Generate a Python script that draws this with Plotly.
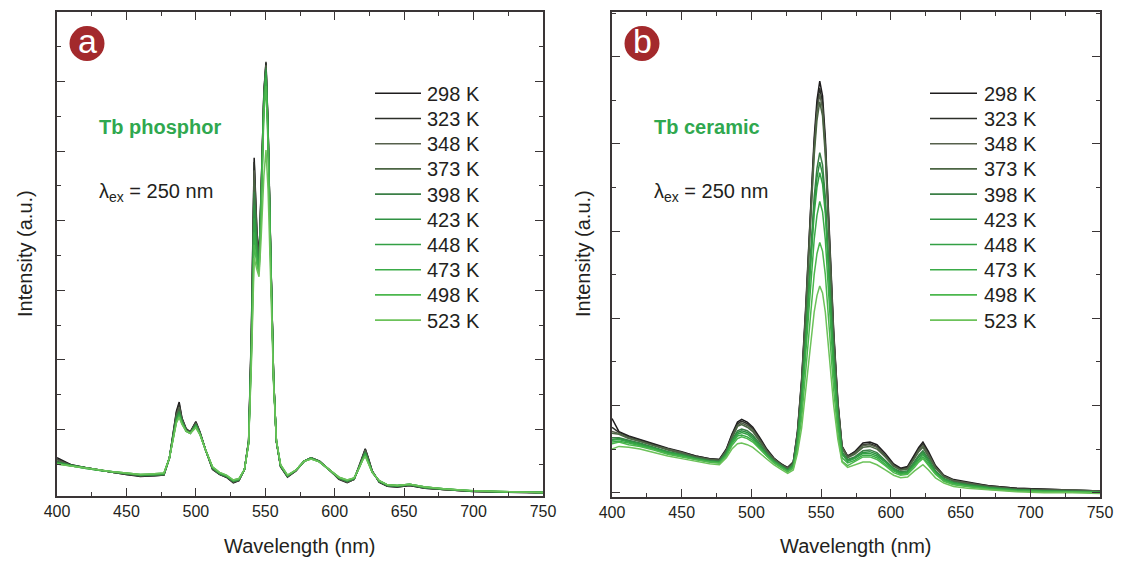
import plotly.graph_objects as go

W, H = 1123, 562
FONT = "Liberation Sans, Arial, sans-serif"
TXT = "#231f20"
AX = "#3a3536"
GREEN_TXT = "#2fa84f"
BADGE = "#a3292c"

TEMPS = ["298 K", "323 K", "348 K", "373 K", "398 K", "423 K", "448 K", "473 K", "498 K", "523 K"]
COLORS = ["#1e1c1d", "#2c2f29", "#56614c", "#4b6543", "#3b7f46", "#2f9142",
          "#33a044", "#3aab47", "#4bb74d", "#6cc25a"]

# ---------- Panel a : Tb phosphor ----------
WL_A = [400, 410, 420, 430, 440, 450, 460, 470, 477, 481, 484, 486, 488, 490, 493, 496, 500, 503, 507, 512,
        517, 522, 527, 531, 535, 538, 540, 542, 544, 545.5, 547, 549, 550.5, 552, 554, 556, 558, 561, 566, 572,
        578, 583, 589, 596, 603, 609, 614, 618, 620, 622, 624, 627, 632, 638, 645, 654, 665, 680, 700, 725, 750]

A_298 = [0.55, 0.45, 0.41, 0.37, 0.34, 0.31, 0.28, 0.29, 0.30, 0.55, 0.95, 1.22, 1.35, 1.12, 0.97, 0.92, 1.07, 0.92, 0.66, 0.38,
         0.31, 0.27, 0.19, 0.22, 0.38, 0.80, 2.40, 4.86, 3.80, 3.43, 4.40, 5.80, 6.22, 5.30, 3.40, 1.70, 0.78, 0.42, 0.27, 0.36,
         0.50, 0.55, 0.50, 0.38, 0.24, 0.19, 0.24, 0.45, 0.58, 0.68, 0.56, 0.36, 0.20, 0.14, 0.13, 0.15, 0.11, 0.09, 0.065, 0.055, 0.048]
A_323 = [0.53, 0.45, 0.41, 0.37, 0.34, 0.31, 0.29, 0.29, 0.30, 0.55, 0.94, 1.20, 1.32, 1.11, 0.96, 0.92, 1.06, 0.91, 0.66, 0.39,
         0.31, 0.27, 0.20, 0.22, 0.38, 0.79, 2.35, 4.80, 3.75, 3.40, 4.38, 5.82, 6.24, 5.32, 3.41, 1.70, 0.78, 0.42, 0.28, 0.36,
         0.50, 0.55, 0.50, 0.38, 0.25, 0.20, 0.24, 0.44, 0.57, 0.67, 0.55, 0.36, 0.20, 0.14, 0.13, 0.15, 0.11, 0.09, 0.066, 0.055, 0.048]
A_348 = [0.52, 0.44, 0.41, 0.37, 0.34, 0.32, 0.29, 0.30, 0.31, 0.55, 0.93, 1.17, 1.28, 1.10, 0.95, 0.91, 1.05, 0.91, 0.66, 0.39,
         0.32, 0.28, 0.20, 0.23, 0.38, 0.78, 2.30, 4.68, 3.70, 3.37, 4.35, 5.78, 6.19, 5.28, 3.39, 1.69, 0.78, 0.43, 0.28, 0.36,
         0.50, 0.55, 0.50, 0.38, 0.25, 0.20, 0.24, 0.44, 0.56, 0.66, 0.54, 0.35, 0.21, 0.15, 0.14, 0.16, 0.12, 0.09, 0.068, 0.056, 0.049]
A_373 = [0.50, 0.44, 0.41, 0.37, 0.34, 0.32, 0.29, 0.30, 0.31, 0.55, 0.92, 1.15, 1.25, 1.09, 0.95, 0.91, 1.04, 0.90, 0.66, 0.40,
         0.32, 0.28, 0.21, 0.23, 0.38, 0.78, 2.25, 4.54, 3.65, 3.34, 4.30, 5.76, 6.18, 5.27, 3.38, 1.69, 0.78, 0.43, 0.28, 0.37,
         0.50, 0.55, 0.50, 0.38, 0.25, 0.21, 0.25, 0.44, 0.55, 0.65, 0.53, 0.35, 0.21, 0.15, 0.14, 0.16, 0.12, 0.09, 0.069, 0.056, 0.049]
A_398 = [0.49, 0.44, 0.41, 0.37, 0.34, 0.32, 0.30, 0.30, 0.31, 0.55, 0.91, 1.13, 1.22, 1.08, 0.94, 0.91, 1.03, 0.90, 0.66, 0.40,
         0.32, 0.28, 0.21, 0.23, 0.38, 0.77, 2.20, 4.37, 3.60, 3.31, 4.25, 5.73, 6.15, 5.25, 3.37, 1.68, 0.79, 0.43, 0.29, 0.37,
         0.50, 0.54, 0.50, 0.38, 0.26, 0.21, 0.25, 0.43, 0.54, 0.63, 0.52, 0.35, 0.21, 0.15, 0.14, 0.16, 0.12, 0.10, 0.070, 0.057, 0.049]
A_423 = [0.48, 0.44, 0.40, 0.37, 0.35, 0.32, 0.30, 0.31, 0.32, 0.55, 0.90, 1.11, 1.20, 1.07, 0.94, 0.90, 1.02, 0.89, 0.66, 0.41,
         0.33, 0.29, 0.22, 0.24, 0.38, 0.77, 2.15, 4.18, 3.52, 3.28, 4.20, 5.70, 6.12, 5.22, 3.35, 1.67, 0.79, 0.44, 0.29, 0.37,
         0.50, 0.54, 0.49, 0.38, 0.26, 0.22, 0.25, 0.43, 0.53, 0.62, 0.51, 0.35, 0.21, 0.15, 0.14, 0.16, 0.12, 0.10, 0.071, 0.058, 0.049]
A_448 = [0.47, 0.43, 0.40, 0.37, 0.35, 0.32, 0.30, 0.31, 0.32, 0.55, 0.89, 1.09, 1.18, 1.06, 0.93, 0.90, 1.01, 0.89, 0.66, 0.41,
         0.33, 0.29, 0.22, 0.24, 0.38, 0.76, 2.10, 3.99, 3.45, 3.25, 4.15, 5.66, 6.08, 5.19, 3.33, 1.66, 0.79, 0.44, 0.29, 0.37,
         0.50, 0.54, 0.49, 0.38, 0.26, 0.22, 0.25, 0.43, 0.53, 0.61, 0.50, 0.34, 0.22, 0.16, 0.15, 0.17, 0.13, 0.10, 0.072, 0.058, 0.050]
A_473 = [0.47, 0.43, 0.40, 0.37, 0.35, 0.33, 0.31, 0.31, 0.32, 0.55, 0.89, 1.08, 1.16, 1.05, 0.93, 0.90, 1.00, 0.88, 0.66, 0.41,
         0.33, 0.29, 0.22, 0.24, 0.38, 0.76, 2.05, 3.79, 3.38, 3.22, 4.08, 5.60, 6.01, 5.13, 3.29, 1.65, 0.80, 0.44, 0.29, 0.37,
         0.50, 0.54, 0.49, 0.38, 0.27, 0.22, 0.26, 0.42, 0.52, 0.60, 0.49, 0.34, 0.22, 0.16, 0.15, 0.17, 0.13, 0.10, 0.073, 0.059, 0.050]
A_498 = [0.46, 0.43, 0.40, 0.37, 0.35, 0.33, 0.31, 0.32, 0.33, 0.55, 0.88, 1.06, 1.15, 1.04, 0.93, 0.90, 0.99, 0.88, 0.66, 0.42,
         0.34, 0.30, 0.23, 0.25, 0.38, 0.75, 2.00, 3.61, 3.32, 3.19, 4.00, 5.50, 5.89, 5.03, 3.22, 1.63, 0.80, 0.45, 0.30, 0.37,
         0.50, 0.53, 0.49, 0.38, 0.27, 0.23, 0.26, 0.42, 0.52, 0.58, 0.48, 0.34, 0.22, 0.16, 0.15, 0.17, 0.13, 0.10, 0.074, 0.060, 0.050]
A_523 = [0.46, 0.43, 0.40, 0.37, 0.35, 0.33, 0.31, 0.32, 0.33, 0.55, 0.88, 1.05, 1.13, 1.03, 0.93, 0.90, 0.98, 0.88, 0.66, 0.42,
         0.34, 0.30, 0.23, 0.25, 0.38, 0.75, 1.90, 3.42, 3.25, 3.15, 3.70, 4.60, 4.97, 4.40, 3.00, 1.60, 0.80, 0.45, 0.30, 0.37,
         0.50, 0.53, 0.49, 0.38, 0.27, 0.23, 0.26, 0.42, 0.51, 0.57, 0.48, 0.34, 0.22, 0.16, 0.15, 0.17, 0.13, 0.10, 0.075, 0.060, 0.050]

# ---------- Panel b : Tb ceramic ----------
WL_B = [400, 405, 412, 420, 430, 440, 450, 460, 470, 477, 482, 486, 490, 493, 497, 501, 506, 511, 516, 521, 526,
        530, 533, 536, 539, 542, 545, 547, 549, 551, 553, 556, 559, 562, 565, 569,
        574, 580, 585, 590, 596, 602, 607, 612, 617, 620, 623, 627, 632, 638, 645, 655, 670, 690, 710, 730, 750]

B_298 = [0.90, 0.75, 0.70, 0.66, 0.61, 0.56, 0.52, 0.47, 0.44, 0.43, 0.55, 0.72, 0.86, 0.89, 0.86, 0.80, 0.68, 0.55, 0.45, 0.38, 0.34,
         0.40, 0.75, 1.35, 2.20, 3.20, 4.12, 4.55, 4.77, 4.60, 4.12, 3.00, 1.90, 1.10, 0.58, 0.47,
         0.52, 0.62, 0.63, 0.60, 0.50, 0.38, 0.33, 0.35, 0.48, 0.57, 0.63, 0.52, 0.36, 0.25, 0.20, 0.17, 0.13, 0.10, 0.09, 0.08, 0.07]
B_323 = [0.80, 0.74, 0.69, 0.65, 0.60, 0.55, 0.51, 0.47, 0.44, 0.43, 0.54, 0.71, 0.84, 0.87, 0.84, 0.78, 0.67, 0.54, 0.44, 0.38, 0.33,
         0.40, 0.74, 1.33, 2.15, 3.14, 4.05, 4.47, 4.69, 4.52, 4.05, 2.95, 1.87, 1.08, 0.58, 0.47,
         0.51, 0.60, 0.61, 0.58, 0.48, 0.37, 0.32, 0.34, 0.47, 0.55, 0.61, 0.50, 0.35, 0.24, 0.19, 0.16, 0.13, 0.10, 0.09, 0.08, 0.07]
B_348 = [0.75, 0.73, 0.68, 0.64, 0.59, 0.55, 0.51, 0.46, 0.43, 0.42, 0.53, 0.69, 0.82, 0.85, 0.82, 0.77, 0.65, 0.53, 0.44, 0.37, 0.33,
         0.39, 0.72, 1.30, 2.12, 3.09, 3.99, 4.41, 4.62, 4.45, 3.99, 2.90, 1.84, 1.06, 0.57, 0.46,
         0.50, 0.59, 0.60, 0.57, 0.47, 0.36, 0.31, 0.33, 0.45, 0.54, 0.59, 0.49, 0.34, 0.24, 0.19, 0.16, 0.12, 0.09, 0.08, 0.08, 0.07]
B_373 = [0.73, 0.72, 0.67, 0.64, 0.59, 0.54, 0.50, 0.46, 0.43, 0.42, 0.53, 0.68, 0.81, 0.83, 0.80, 0.75, 0.64, 0.52, 0.43, 0.37, 0.32,
         0.39, 0.71, 1.28, 2.08, 3.03, 3.91, 4.32, 4.53, 4.37, 3.91, 2.85, 1.80, 1.04, 0.56, 0.45,
         0.49, 0.57, 0.58, 0.55, 0.46, 0.35, 0.31, 0.32, 0.44, 0.52, 0.57, 0.47, 0.33, 0.23, 0.18, 0.15, 0.12, 0.09, 0.08, 0.07, 0.06]
B_398 = [0.68, 0.68, 0.65, 0.62, 0.57, 0.52, 0.49, 0.45, 0.42, 0.41, 0.51, 0.65, 0.76, 0.78, 0.76, 0.71, 0.61, 0.50, 0.42, 0.36, 0.31,
         0.37, 0.66, 1.16, 1.86, 2.69, 3.44, 3.77, 3.95, 3.81, 3.44, 2.52, 1.61, 0.95, 0.52, 0.43,
         0.46, 0.53, 0.54, 0.51, 0.42, 0.33, 0.29, 0.30, 0.41, 0.48, 0.53, 0.44, 0.30, 0.21, 0.17, 0.14, 0.11, 0.08, 0.07, 0.07, 0.06]
B_423 = [0.66, 0.67, 0.64, 0.61, 0.56, 0.52, 0.48, 0.44, 0.41, 0.40, 0.50, 0.64, 0.74, 0.76, 0.74, 0.69, 0.59, 0.49, 0.41, 0.35, 0.31,
         0.36, 0.64, 1.13, 1.81, 2.62, 3.34, 3.66, 3.84, 3.70, 3.34, 2.45, 1.57, 0.92, 0.50, 0.42,
         0.45, 0.51, 0.52, 0.49, 0.41, 0.32, 0.28, 0.29, 0.39, 0.46, 0.51, 0.42, 0.29, 0.21, 0.16, 0.14, 0.11, 0.08, 0.07, 0.06, 0.06]
B_448 = [0.65, 0.66, 0.63, 0.60, 0.56, 0.51, 0.48, 0.44, 0.41, 0.40, 0.49, 0.63, 0.72, 0.74, 0.72, 0.67, 0.58, 0.48, 0.41, 0.35, 0.30,
         0.36, 0.63, 1.11, 1.77, 2.55, 3.25, 3.55, 3.72, 3.59, 3.25, 2.38, 1.53, 0.90, 0.49, 0.41,
         0.44, 0.50, 0.50, 0.47, 0.40, 0.31, 0.27, 0.28, 0.38, 0.44, 0.49, 0.40, 0.28, 0.20, 0.16, 0.13, 0.10, 0.08, 0.07, 0.06, 0.05]
B_473 = [0.63, 0.64, 0.62, 0.59, 0.55, 0.50, 0.47, 0.43, 0.40, 0.39, 0.48, 0.61, 0.70, 0.71, 0.69, 0.65, 0.56, 0.47, 0.40, 0.34, 0.29,
         0.34, 0.58, 1.01, 1.61, 2.31, 2.95, 3.23, 3.39, 3.27, 2.95, 2.17, 1.40, 0.83, 0.45, 0.39,
         0.42, 0.48, 0.48, 0.45, 0.38, 0.30, 0.26, 0.27, 0.36, 0.42, 0.46, 0.38, 0.27, 0.19, 0.15, 0.12, 0.10, 0.07, 0.06, 0.06, 0.05]
B_498 = [0.61, 0.63, 0.60, 0.58, 0.54, 0.49, 0.46, 0.43, 0.40, 0.39, 0.47, 0.59, 0.67, 0.69, 0.67, 0.63, 0.55, 0.46, 0.39, 0.34, 0.29,
         0.33, 0.54, 0.90, 1.41, 2.01, 2.55, 2.79, 2.92, 2.82, 2.55, 1.89, 1.23, 0.73, 0.41, 0.36,
         0.41, 0.46, 0.46, 0.43, 0.36, 0.28, 0.25, 0.26, 0.34, 0.40, 0.44, 0.36, 0.26, 0.18, 0.14, 0.12, 0.09, 0.07, 0.06, 0.06, 0.05]
B_523 = [0.55, 0.58, 0.57, 0.55, 0.51, 0.47, 0.44, 0.41, 0.38, 0.37, 0.45, 0.55, 0.61, 0.62, 0.60, 0.57, 0.50, 0.43, 0.37, 0.32, 0.27,
         0.31, 0.50, 0.79, 1.20, 1.68, 2.12, 2.31, 2.42, 2.34, 2.12, 1.58, 1.05, 0.66, 0.40, 0.34,
         0.37, 0.40, 0.40, 0.37, 0.31, 0.25, 0.22, 0.23, 0.30, 0.34, 0.37, 0.31, 0.22, 0.16, 0.12, 0.10, 0.08, 0.06, 0.05, 0.05, 0.04]

SERIES_A = [A_298, A_323, A_348, A_373, A_398, A_423, A_448, A_473, A_498, A_523]
SERIES_B = [B_298, B_323, B_348, B_373, B_398, B_423, B_448, B_473, B_498, B_523]


def px(x):
    return x / W


def py(y):
    return 1 - y / H


fig = go.Figure()
for name, col, ys in zip(TEMPS, COLORS, SERIES_A):
    fig.add_trace(go.Scatter(x=WL_A, y=ys, mode="lines", name=name, legendgroup=name,
                             line=dict(color=col, width=1.5), xaxis="x", yaxis="y", showlegend=False))
for name, col, ys in zip(TEMPS, COLORS, SERIES_B):
    fig.add_trace(go.Scatter(x=WL_B, y=ys, mode="lines", name=name, legendgroup=name,
                             line=dict(color=col, width=1.5), xaxis="x2", yaxis="y2", showlegend=False))

common = dict(showline=True, linecolor=AX, linewidth=1.6, mirror="allticks", ticks="inside",
              tickcolor=AX, tickwidth=1.4, ticklen=8, showgrid=False, zeroline=False, automargin=False)
xcommon = dict(range=[400, 750], tick0=400, dtick=50,
               minor=dict(dtick=25, ticklen=4, ticks="inside", tickcolor=AX, tickwidth=1.2),
               tickfont=dict(family=FONT, size=16, color=TXT), **common)

fig.update_layout(
    width=W, height=H, margin=dict(l=0, r=0, t=0, b=0, pad=0), autosize=False,
    paper_bgcolor="white", plot_bgcolor="white", showlegend=False,
    font=dict(family=FONT, color=TXT),
    xaxis=dict(domain=[px(57), px(543)], anchor="y", **xcommon),
    xaxis2=dict(domain=[px(612), px(1100)], anchor="y2", **xcommon),
    yaxis=dict(domain=[py(496), py(12)], anchor="x", range=[0, 484 / 69.6], tick0=0.955, dtick=1,
               showticklabels=False,
               minor=dict(dtick=0.5, tick0=0.455, ticklen=4, ticks="inside", tickcolor=AX, tickwidth=1.2),
               **common),
    yaxis2=dict(domain=[py(497), py(12)], anchor="x2", range=[0, 485 / 87.2], tick0=0.049, dtick=1,
                showticklabels=False,
                minor=dict(dtick=0.5, tick0=0.549, ticklen=4, ticks="inside", tickcolor=AX, tickwidth=1.2),
                **common),
)

annotations = []
shapes = []

# axis titles
for cx in (300, 856):
    annotations.append(dict(text="Wavelength (nm)", x=px(cx), y=py(546), xref="paper", yref="paper",
                            showarrow=False, xanchor="center", yanchor="middle",
                            font=dict(family=FONT, size=20, color=TXT)))
for cx in (25, 583):
    annotations.append(dict(text="Intensity (a.u.)", x=px(cx), y=py(254), xref="paper", yref="paper",
                            showarrow=False, textangle=-90, xanchor="center", yanchor="middle",
                            font=dict(family=FONT, size=20, color=TXT)))

# panel labels, sample names and excitation
for (bx, letter, sample, tx) in [(87, "a", "Tb phosphor", 97), (642, "b", "Tb ceramic", 652)]:
    shapes.append(dict(type="circle", xref="paper", yref="paper", x0=px(bx - 17.5), x1=px(bx + 17.5),
                       y0=py(43.5 + 17.5), y1=py(43.5 - 17.5), fillcolor=BADGE, line=dict(width=0)))
    annotations.append(dict(text=letter, x=px(bx), y=py(41), xref="paper", yref="paper", showarrow=False,
                            xanchor="center", yanchor="middle",
                            font=dict(family=FONT, size=34, color="white")))
    annotations.append(dict(text="<b>%s</b>" % sample, x=px(tx), y=py(127), xref="paper", yref="paper",
                            showarrow=False, xanchor="left", yanchor="middle",
                            font=dict(family=FONT, size=20, color=GREEN_TXT)))
    annotations.append(dict(text="λ<sub>ex</sub> = 250 nm", x=px(tx), y=py(192), xref="paper", yref="paper",
                            showarrow=False, xanchor="left", yanchor="middle",
                            font=dict(family=FONT, size=20, color=TXT)))

# legends (one per panel)
for (lx0, lx1, tx) in [(375, 421, 425), (930, 977, 982)]:
    for i, (name, col) in enumerate(zip(TEMPS, COLORS)):
        yy = 93.3 + 25.2 * i
        shapes.append(dict(type="line", xref="paper", yref="paper", x0=px(lx0), x1=px(lx1),
                           y0=py(yy), y1=py(yy), line=dict(color=col, width=1.6)))
        annotations.append(dict(text=name, x=px(tx), y=py(yy + 0.5), xref="paper", yref="paper",
                                showarrow=False, xanchor="left", yanchor="middle",
                                font=dict(family=FONT, size=20, color=TXT)))

fig.update_layout(annotations=annotations, shapes=shapes)
fig.write_html("out.html", config={"displayModeBar": False},
               post_script="document.body.style.margin='0';document.body.style.padding='0';")
